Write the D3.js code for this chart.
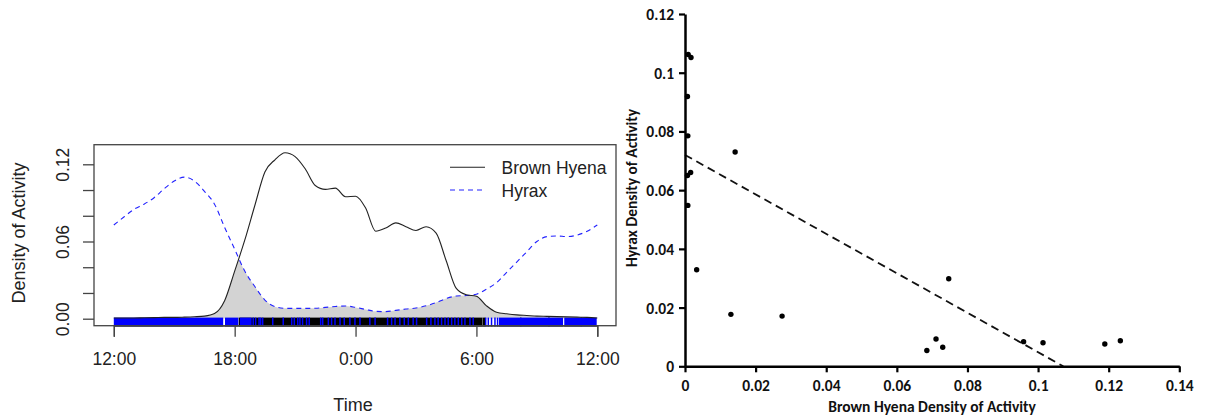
<!DOCTYPE html>
<html><head><meta charset="utf-8">
<script src="https://cdn.jsdelivr.net/npm/d3@7"></script>
<style>body{margin:0;background:#fff;} svg{display:block;}</style>
</head><body><svg id="c" width="1211" height="420"></svg>
<script>
// ---------- Left panel: activity density over the day ----------
const hours = [12,12.5,13,13.5,14,14.5,15,15.5,16,16.5,17,17.5,18,18.5,19,19.5,20,20.5,21,21.5,22,22.5,23,23.5,24,24.5,25,25.5,26,26.5,27,27.5,28,28.5,29,29.5,30,30.5,31,31.5,32,32.5,33,33.5,34,34.5,35,35.5,36];
const hyenaDensity = [0.0005,0.0005,0.0005,0.0007,0.0008,0.001,0.001,0.0012,0.0015,0.002,0.004,0.014,0.037,0.061,0.088,0.114,0.1235,0.129,0.126,0.1165,0.1035,0.1005,0.1015,0.0948,0.0952,0.086,0.068,0.0705,0.0745,0.0715,0.0686,0.0715,0.0665,0.045,0.0235,0.0186,0.0175,0.010,0.005,0.0038,0.003,0.0025,0.002,0.0018,0.0016,0.0014,0.0012,0.001,0.0005];
const hyraxDensity = [0.0728,0.079,0.085,0.089,0.094,0.101,0.107,0.110,0.107,0.099,0.089,0.071,0.054,0.037,0.025,0.0145,0.0093,0.0081,0.008,0.008,0.0081,0.0088,0.0095,0.0099,0.0088,0.0072,0.0057,0.0055,0.0065,0.0075,0.0083,0.010,0.0125,0.0157,0.0176,0.018,0.019,0.023,0.028,0.036,0.044,0.052,0.060,0.0638,0.0643,0.0638,0.065,0.068,0.0728];
const timeTicks = [12,18,24,30,36];
const timeTickLabels = ["12:00","18:00","0:00","6:00","12:00"];
const densityTicks = [0,0.02,0.04,0.06,0.08,0.10,0.12];
const densityTickLabels = ["0.00","","","0.06","","","0.12"];
const legendLabels = ["Brown Hyena","Hyrax"];
// rug: dense stretches (start,end hours) and single observations
const hyenaRugBands = [[18.2,30.3]];
const hyenaRugTicks = [30.35,30.41,32.2,33.6,35.2];
const hyraxRugBands = [[12.0,17.43],[17.52,18.18],[18.26,18.84],[31.12,34.3],[34.36,35.97]];
const hyraxRugTicks = [18.92,19.04,19.21,19.29,19.39,19.89,20.41,20.83,20.96,21.13,21.24,21.37,21.57,21.70,22.27,22.37,22.65,22.81,22.98,23.23,23.44,23.72,23.97,24.22,24.71,24.97,25.59,25.79,25.96,26.2,26.42,26.62,26.86,27.03,27.53,27.74,27.94,28.1,28.27,28.44,28.6,28.77,28.93,29.1,29.27,29.43,29.68,29.84,30.46,30.59,30.75,30.92,31.05];

// ---------- Right panel: scatter ----------
const scatterHyena = [0.0009,0.0017,0.0007,0.0008,0.0142,0.0007,0.0016,0.0008,0.0033,0.0130,0.0275,0.0685,0.0711,0.0730,0.0747,0.0959,0.1014,0.1189,0.1233];
const scatterHyrax = [0.1062,0.1052,0.0919,0.0785,0.0730,0.0650,0.0660,0.0548,0.0329,0.0177,0.0171,0.0054,0.0093,0.0065,0.0298,0.0084,0.0080,0.0076,0.0087];
const trendIntercept = 0.072;
const trendSlope = -0.672;
const scatterXTicks = [0,0.02,0.04,0.06,0.08,0.10,0.12,0.14];
const scatterXTickLabels = ["0","0.02","0.04","0.06","0.08","0.1","0.12","0.14"];
const scatterYTicks = [0,0.02,0.04,0.06,0.08,0.10,0.12];
const scatterYTickLabels = ["0","0.02","0.04","0.06","0.08","0.1","0.12"];
const scatterXTitle = "Brown Hyena Density of Activity";
const scatterYTitle = "Hyrax Density of Activity";
const leftXTitle = "Time";
const leftYTitle = "Density of Activity";

const svg = d3.select("#c");
const leftFont = "Liberation Sans, Arial, sans-serif";
const rightFont = "Carlito, Lato, sans-serif";

// ===== Left panel =====
const box = {x:94, y:144.7, w:522, h:181};
const xL = d3.scaleLinear().domain([12,36]).range([113.8,597.3]);
const yL = d3.scaleLinear().domain([0,0.12]).range([318.7,164.3]);
const L = svg.append("g");

const hyenaPts = hours.map((h,i)=>[h,hyenaDensity[i]]);
const hyraxPts = hours.map((h,i)=>[h,hyraxDensity[i]]);
const curve = d3.curveMonotoneX;
const area = d3.area().x(d=>xL(d[0])).y0(yL(0)).y1(d=>yL(d[1])).curve(curve);
const line = d3.line().x(d=>xL(d[0])).y(d=>yL(d[1])).curve(curve);

svg.append("defs").append("clipPath").attr("id","hyraxClip")
  .append("path").attr("d", area(hyraxPts));
L.append("path").attr("d", area(hyenaPts)).attr("fill","#d3d3d3")
  .attr("clip-path","url(#hyraxClip)");

// rug
const rugTop = 317.6, rugBot = 326.6;
const rugG = L.append("g");
rugG.selectAll("rect.hyb").data(hyenaRugBands).join("rect")
  .attr("x",d=>xL(d[0])).attr("width",d=>xL(d[1])-xL(d[0]))
  .attr("y",rugTop).attr("height",rugBot-rugTop).attr("fill","#000");
rugG.selectAll("line.hyt").data(hyenaRugTicks).join("line")
  .attr("x1",d=>xL(d)).attr("x2",d=>xL(d)).attr("y1",rugTop).attr("y2",rugBot)
  .attr("stroke","#000").attr("stroke-width",1.5);
rugG.selectAll("rect.rxb").data(hyraxRugBands).join("rect")
  .attr("x",d=>xL(d[0])).attr("width",d=>xL(d[1])-xL(d[0]))
  .attr("y",rugTop).attr("height",rugBot-rugTop).attr("fill","#0000ff");
rugG.selectAll("line.rxt").data(hyraxRugTicks).join("line")
  .attr("x1",d=>xL(d)).attr("x2",d=>xL(d)).attr("y1",rugTop).attr("y2",rugBot)
  .attr("stroke","#0000ff").attr("stroke-width",1.5);

// curves
L.append("path").attr("d", line(hyraxPts)).attr("fill","none")
  .attr("stroke","#2222ff").attr("stroke-width",1.1).attr("stroke-dasharray","5,4");
L.append("path").attr("d", line(hyenaPts)).attr("fill","none")
  .attr("stroke","#222").attr("stroke-width",1.1);

// box
L.append("rect").attr("x",box.x).attr("y",box.y).attr("width",box.w).attr("height",box.h)
  .attr("fill","none").attr("stroke","#444").attr("stroke-width",1.3);

// axes
const xAxisL = d3.axisBottom(xL).tickValues(timeTicks).tickSize(11)
  .tickFormat((d,i)=>timeTickLabels[i]);
const gx = L.append("g").attr("transform",`translate(0,${box.y+box.h})`).call(xAxisL);
gx.select(".domain").attr("stroke","#444").attr("stroke-width",1.3);
gx.selectAll(".tick line").attr("stroke","#444").attr("stroke-width",1.3);
gx.selectAll(".tick text").attr("y",39.5).attr("dy",null)
  .attr("font-family",leftFont).attr("font-size",17.5).attr("fill","#222");

const yAxisL = d3.axisLeft(yL).tickValues(densityTicks).tickSize(11)
  .tickFormat((d,i)=>densityTickLabels[i]);
const gy = L.append("g").attr("transform",`translate(${box.x},0)`).call(yAxisL);
gy.select(".domain").remove();
gy.selectAll(".tick line").attr("stroke","#444").attr("stroke-width",1.3);
gy.selectAll(".tick text").attr("x",null).attr("dy",null)
  .attr("transform","translate(-25,0) rotate(-90)")
  .attr("text-anchor","middle").attr("y",0)
  .attr("font-family",leftFont).attr("font-size",17.5).attr("fill","#222");

L.append("text").attr("x",353).attr("y",411).attr("text-anchor","middle")
  .attr("font-family",leftFont).attr("font-size",18).attr("fill","#222").text(leftXTitle);
L.append("text").attr("transform","translate(24.5,233) rotate(-90)").attr("text-anchor","middle")
  .attr("font-family",leftFont).attr("font-size",18).attr("fill","#222").text(leftYTitle);

// legend
const legY = [167.3,190];
const legStroke = ["#222","#2222ff"];
const legDash = [null,"5,4"];
legendLabels.forEach((lab,i)=>{
  L.append("line").attr("x1",450).attr("x2",485).attr("y1",legY[i]).attr("y2",legY[i])
    .attr("stroke",legStroke[i]).attr("stroke-width",1.1).attr("stroke-dasharray",legDash[i]);
  L.append("text").attr("x",501.5).attr("y",legY[i]+6.5)
    .attr("font-family",leftFont).attr("font-size",17.5).attr("fill","#222").text(lab);
});

// ===== Right panel =====
const xR = d3.scaleLinear().domain([0,0.14]).range([685,1179.3]);
const yR = d3.scaleLinear().domain([0,0.12]).range([366.3,14]);
const R = svg.append("g");

// trend line
const xEnd = -trendIntercept/trendSlope;
R.append("line").attr("x1",xR(0)).attr("y1",yR(trendIntercept))
  .attr("x2",xR(xEnd)).attr("y2",yR(0))
  .attr("stroke","#111").attr("stroke-width",1.8).attr("stroke-dasharray","8,5");

const gxR = R.append("g").attr("transform",`translate(0,${yR(0)})`)
  .call(d3.axisBottom(xR).tickValues(scatterXTicks).tickSize(6).tickSizeOuter(0)
  .tickFormat((d,i)=>scatterXTickLabels[i]));
gxR.select(".domain").attr("stroke","#000").attr("stroke-width",2.5);
gxR.selectAll(".tick line").attr("stroke","#000").attr("stroke-width",2.2);
gxR.selectAll(".tick text").attr("y",24.5).attr("dy",null)
  .attr("font-family",rightFont).attr("font-weight","bold").attr("font-size",15.5).attr("fill","#111");

const gyR = R.append("g").attr("transform",`translate(${xR(0)},0)`)
  .call(d3.axisLeft(yR).tickValues(scatterYTicks).tickSize(6).tickSizeOuter(0)
  .tickFormat((d,i)=>scatterYTickLabels[i]));
gyR.select(".domain").attr("stroke","#000").attr("stroke-width",2.5);
gyR.selectAll(".tick line").attr("stroke","#000").attr("stroke-width",2.2);
gyR.selectAll(".tick text").attr("x",-11).attr("dy","0.35em")
  .attr("font-family",rightFont).attr("font-weight","bold").attr("font-size",15.5).attr("fill","#111");

R.selectAll("circle.pt").data(scatterHyena).join("circle")
  .attr("cx",d=>xR(d)).attr("cy",(d,i)=>yR(scatterHyrax[i])).attr("r",2.7).attr("fill","#000");

R.append("text").attr("x",932).attr("y",412).attr("text-anchor","middle")
  .attr("font-family",rightFont).attr("font-weight","bold").attr("font-size",15.5).attr("fill","#111")
  .text(scatterXTitle);
R.append("text").attr("transform","translate(637,188) rotate(-90)").attr("text-anchor","middle")
  .attr("font-family",rightFont).attr("font-weight","bold").attr("font-size",15.5).attr("fill","#111")
  .text(scatterYTitle);
</script>
</body></html>
